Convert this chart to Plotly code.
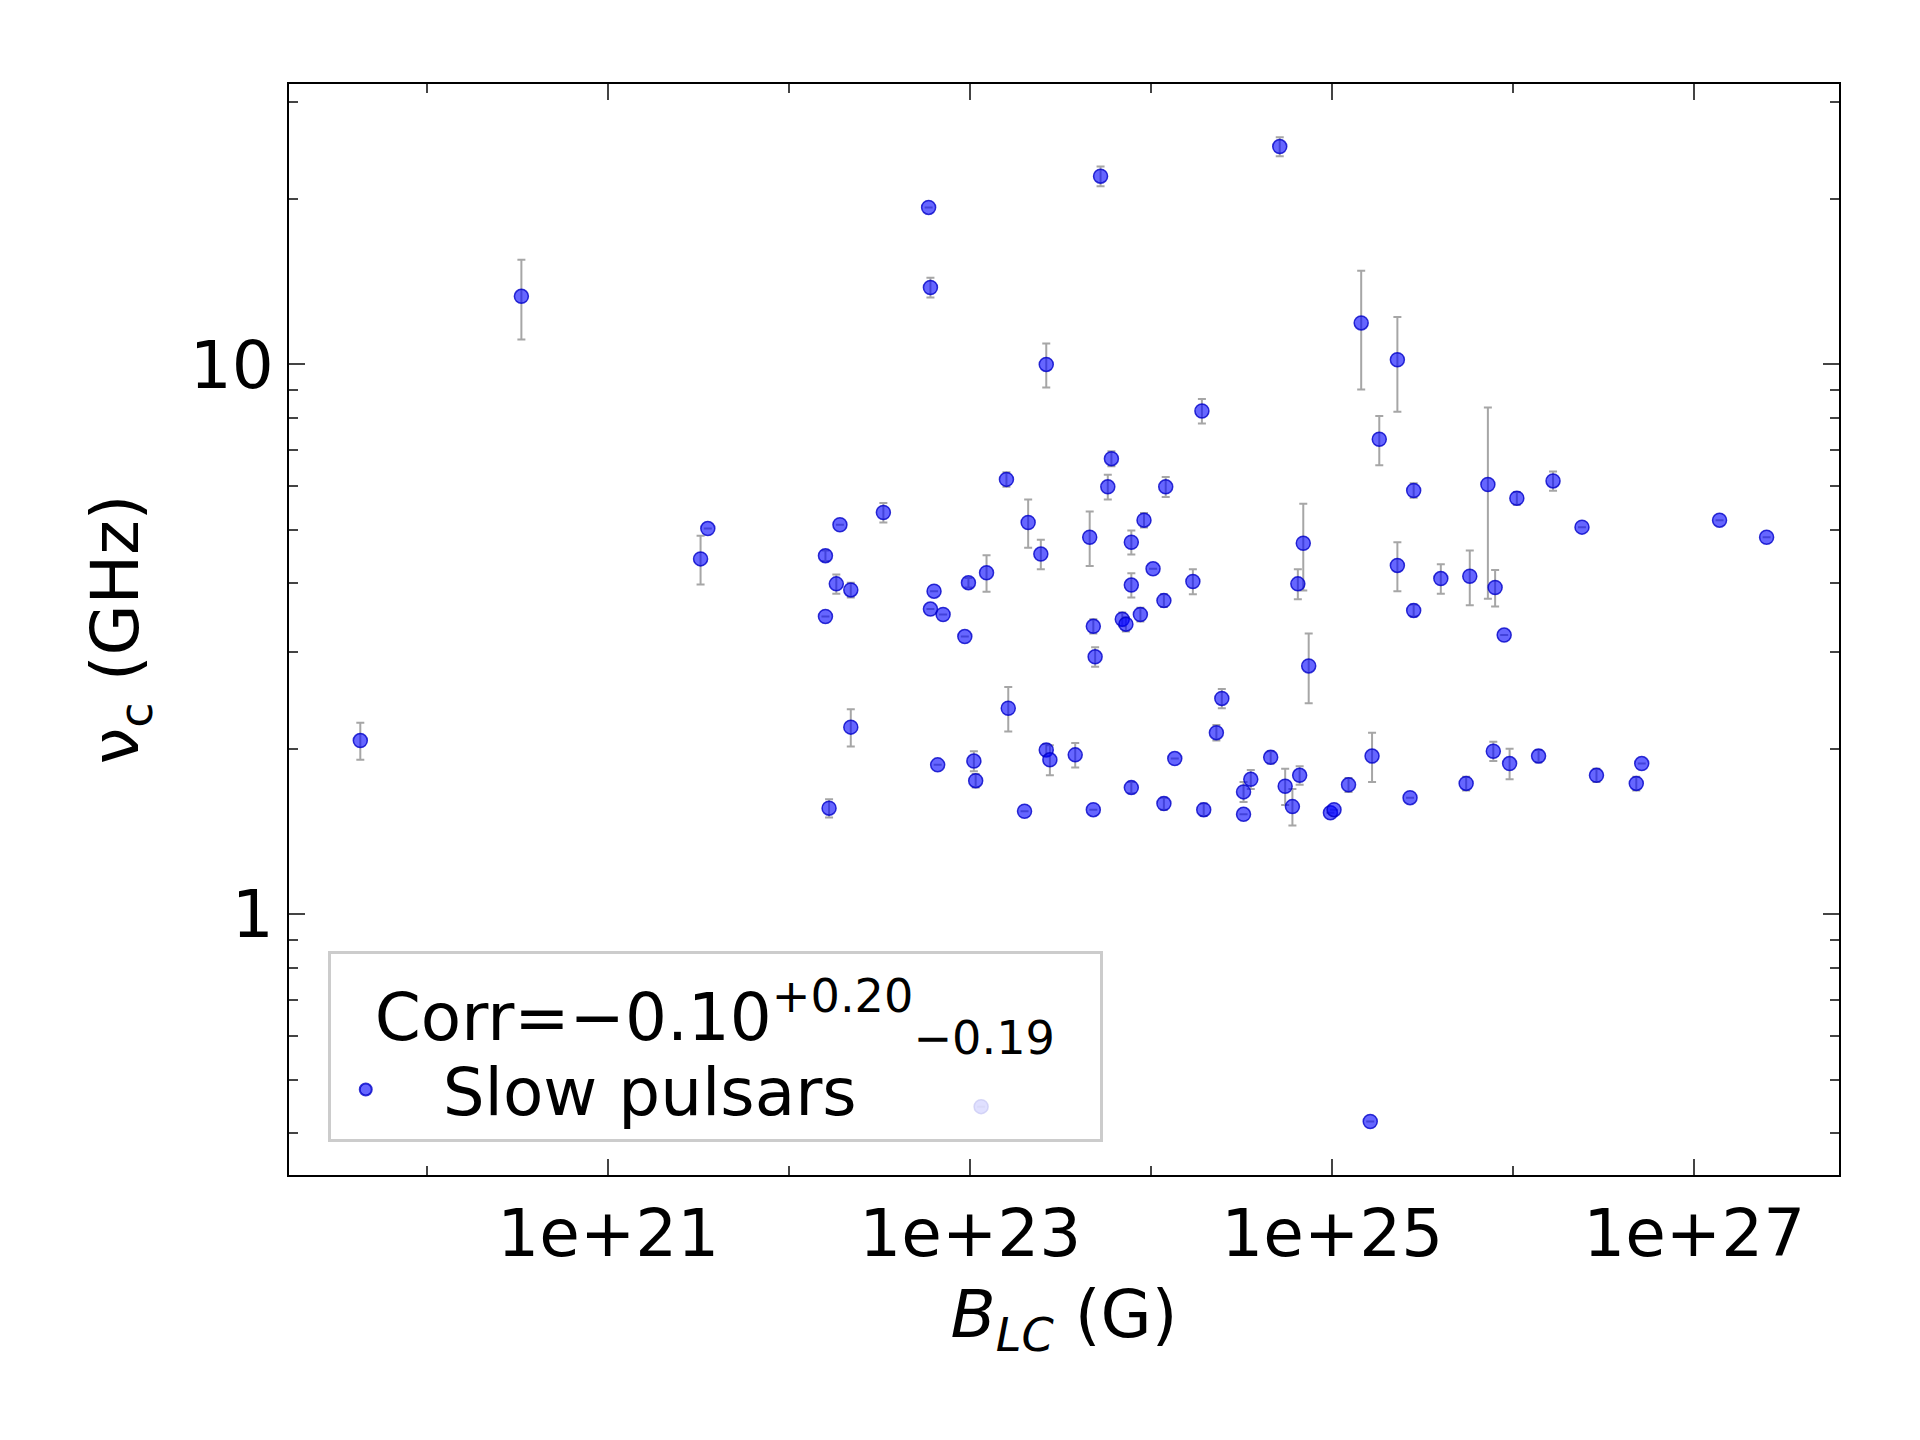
import numpy as np
import plotly.graph_objects as go

# log10 of light-cylinder field (G)
log_B = [19.63, 20.52, 21.51, 21.55, 22.20, 22.20, 22.22, 22.26, 22.28, 22.34,
         22.34, 22.52, 22.77, 22.78, 22.78, 22.80, 22.82, 22.85, 22.97, 22.99,
         23.02, 23.03, 23.09, 23.20, 23.21, 23.30, 23.32, 23.39, 23.42, 23.42,
         23.44, 23.58, 23.66, 23.68, 23.69, 23.68, 23.72, 23.76, 23.78, 23.84,
         23.86, 23.89, 23.89, 23.89, 23.94, 23.96, 24.01, 24.07, 24.07, 24.08,
         24.13, 24.23, 24.28, 24.29, 24.36, 24.39, 24.51, 24.51, 24.55, 24.66,
         24.71, 24.74, 24.78, 24.81, 24.82, 24.84, 24.87, 24.99, 25.01, 25.09,
         25.16, 25.21, 25.22, 25.26, 25.36, 25.36, 25.43, 25.45, 25.45, 25.60,
         25.74, 25.76, 25.86, 25.89, 25.90, 25.95, 25.98, 26.02, 26.14, 26.22,
         26.38, 26.46, 26.68, 26.71, 27.14, 27.40, 23.06]
# peak frequency (GHz)
nu_c = [2.07, 13.3, 4.43, 5.03, 3.48, 4.49, 1.56, 3.99, 5.11, 2.19,
        3.89, 5.38, 19.3, 13.8, 3.59, 3.87, 1.87, 3.51, 3.20, 4.01,
        1.90, 1.75, 4.18, 6.18, 2.37, 1.54, 5.16, 4.52, 10.0, 1.99,
        1.91, 1.95, 4.85, 3.34, 2.94, 1.55, 22.0, 5.99, 6.74, 3.44,
        3.37, 3.97, 4.75, 1.70, 3.51, 5.21, 4.25, 1.59, 3.72, 5.99,
        1.92, 4.03, 8.23, 1.55, 2.14, 2.47, 1.52, 1.67, 1.76, 1.93,
        24.9, 1.71, 1.57, 3.99, 1.79, 4.73, 2.83, 1.53, 1.55, 1.72,
        11.9, 0.42, 1.94, 7.31, 10.2, 4.31, 1.63, 5.90, 3.57, 4.08,
        1.73, 4.12, 6.05, 1.98, 3.93, 3.22, 1.88, 5.71, 1.94, 6.14,
        5.06, 1.79, 1.73, 1.88, 5.21, 4.85, 0.447]
nu_err = [0.16, 2.2, 0.45, 0, 0, 0.1, 0.06, 0.16, 0, 0.17,
          0.12, 0.22, 0, 0.57, 0, 0, 0, 0, 0, 0.08,
          0.08, 0.05, 0.32, 0.19, 0.22, 0, 0.52, 0.28, 0.92, 0.05,
          0.12, 0.10, 0.55, 0.10, 0.12, 0, 0.9, 0.31, 0.21, 0.1,
          0.1, 0.2, 0.24, 0.04, 0.1, 0.16, 0, 0.04, 0.1, 0.25,
          0, 0.21, 0.42, 0.04, 0.07, 0.1, 0, 0.07, 0.07, 0.05,
          1.0, 0.13, 0.12, 0.25, 0.07, 0.85, 0.41, 0, 0, 0.05,
          2.9, 0, 0.2, 0.75, 2.0, 0.44, 0, 0.18, 0.09, 0.25,
          0.05, 0.47, 2.3, 0.08, 0.3, 0, 0.12, 0.15, 0.05, 0.25,
          0, 0.05, 0.05, 0, 0, 0, 0]

B_lc = [10 ** v for v in log_B]
font = "DejaVu Sans"

fig = go.Figure()
fig.add_trace(go.Scatter(
    x=B_lc, y=nu_c, mode="markers", name="  Slow pulsars",
    marker=dict(color="rgba(0,0,255,0.6)", size=14,
                line=dict(color="rgba(0,0,200,0.8)", width=1.5)),
    error_y=dict(type="data", array=nu_err, color="rgba(128,128,128,0.7)",
                 thickness=2, width=4)))

axis_common = dict(type="log", showgrid=False, zeroline=False, ticks="inside",
                   ticklen=16, tickwidth=2, mirror="allticks", showline=True,
                   linecolor="black", linewidth=2,
                   tickfont=dict(size=66, family=font, color="black"))
fig.update_xaxes(**axis_common, range=[19.236, 27.80],
                 tickvals=[1e21, 1e23, 1e25, 1e27],
                 ticktext=["1e+21", "1e+23", "1e+25", "1e+27"],
                 minor=dict(tickvals=[1e20, 1e22, 1e24, 1e26], ticks="inside",
                            ticklen=9, tickwidth=1.5),
                 title=dict(text="<i>B</i><sub><i>LC</i></sub> (G)",
                            font=dict(size=66, family=font), standoff=20))
fig.update_yaxes(**axis_common, range=[-0.474, 1.51],
                 tickvals=[1, 10], ticktext=["1", "10"],
                 minor=dict(tickvals=[0.4, 0.5, 0.6, 0.7, 0.8, 0.9, 2, 3, 4, 5, 6, 7, 8, 9, 20, 30],
                            ticks="inside", ticklen=9, tickwidth=1.5),
                 title=dict(text="ν<sub>c</sub> (GHz)",
                            font=dict(size=66, family=font), standoff=30))

fig.update_layout(
    width=1920, height=1440, plot_bgcolor="white", paper_bgcolor="white",
    margin=dict(l=281, r=89, t=76, b=273),
    font=dict(family=font, color="black"),
    showlegend=True,
    legend=dict(x=0.025, y=0.03, xanchor="left", yanchor="bottom",
                bgcolor="rgba(255,255,255,0.8)", bordercolor="#cccccc", borderwidth=3,
                font=dict(size=66, family=font), itemsizing="constant",
                itemwidth=60, tracegroupgap=20,
                title=dict(text="  Corr=−0.10<sup>+0.20</sup><sub>−0.19</sub>  ",
                           font=dict(size=66, family=font), side="top")))

fig.write_html("out.html")
